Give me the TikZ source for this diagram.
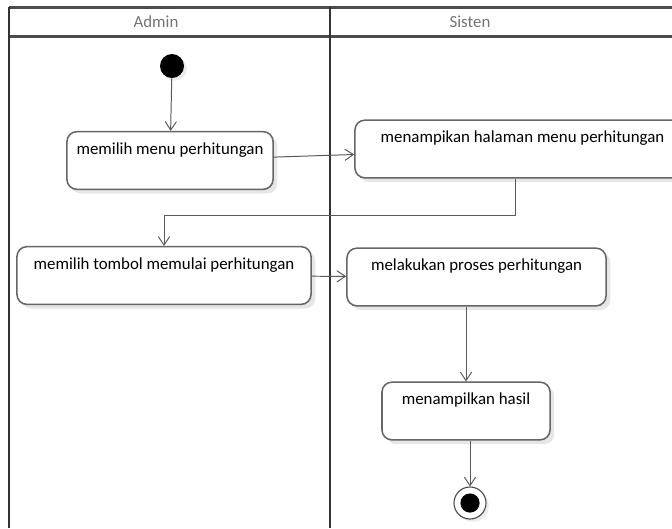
\documentclass[tikz,border=0pt]{standalone}
\usepackage{fontspec}
\setmainfont{Carlito}
\usepackage{tikz}
\usetikzlibrary{arrows.meta,positioning,shadows}

\begin{document}
\begin{tikzpicture}[x=0.025cm, y=-0.025cm]
	\tikzstyle{activity} = [rectangle, rounded corners=7pt, draw=black!60, line width=1.1pt, 
	fill=white, inner sep=0pt, text height=16pt, text depth=25pt, font=\fontsize{12}{14}\selectfont, 
	drop shadow={opacity=0.2, shadow xshift=3pt, shadow yshift=-3pt}]
	\tikzstyle{lane} = [draw=black!80, line width=1.3pt]
	\tikzstyle{laneTitle} = [text=black!55, font=\fontsize{12}{14}\selectfont]
	\tikzstyle{arrow} = [draw=black!65, line width=0.7pt, -{Straight Barb[length=6pt, width=8pt]}]
	\clip (0,0) rectangle (672,528);
	\draw [lane, line width=2pt, draw=black!70] (9,7.5) -- (700,7.5);
	\draw [lane, line width=2.2pt, draw=black!70] (9,36.5) -- (700,36.5);
	\draw [lane] (9,528) -- (9,6.5);
	\draw [lane] (330,6.5) -- (330,528);
	\node (adminTitle) [laneTitle] at (156,21.5) {Admin};
	\node (sistemTitle) [laneTitle] at (470,21.5) {Sisten};
	\node (start) [circle, fill=black, minimum size=0.6cm, inner sep=0pt, 
	drop shadow={opacity=0.15, shadow xshift=2pt, shadow yshift=-2pt}] at (172,66) {};
	\node (pickMenu) [activity, minimum width=5.15cm] at (170,160.5) {memilih menu perhitungan};
	\node (showMenu) [activity, minimum width=8.375cm] at (522.5,149) {menampikan halaman menu perhitungan};
	\node (pickStart) [activity, minimum width=7.35cm] at (164,275.5) {memilih tombol memulai perhitungan};
	\node (runCount) [activity, minimum width=6.475cm] at (476.5,277) {melakukan proses perhitungan};
	\node (showResult) [activity, minimum width=4.2cm] at (466,411) {menampilkan hasil};
	\node (finish) [circle, draw=black!70, line width=0.8pt, fill=white, minimum size=0.8cm, inner sep=0pt, 
	drop shadow={opacity=0.15, shadow xshift=2pt, shadow yshift=-2pt}] at (470,503) {};
	\fill (finish) circle (0.24cm);
	\coordinate (bendA) at (515,215);
	\draw [arrow] (start) -- (pickMenu);
	\draw [arrow] (pickMenu) -- (showMenu);
	\draw [arrow] (bendA |- showMenu.south) -- (bendA) -| (pickStart.north);
	\draw [arrow] (pickStart) -- (runCount);
	\draw [arrow] (runCount.south -| showResult.north) -- (showResult.north);
	\draw [arrow] (finish.north |- showResult.south) -- (finish.north);
\end{tikzpicture}
\end{document}
